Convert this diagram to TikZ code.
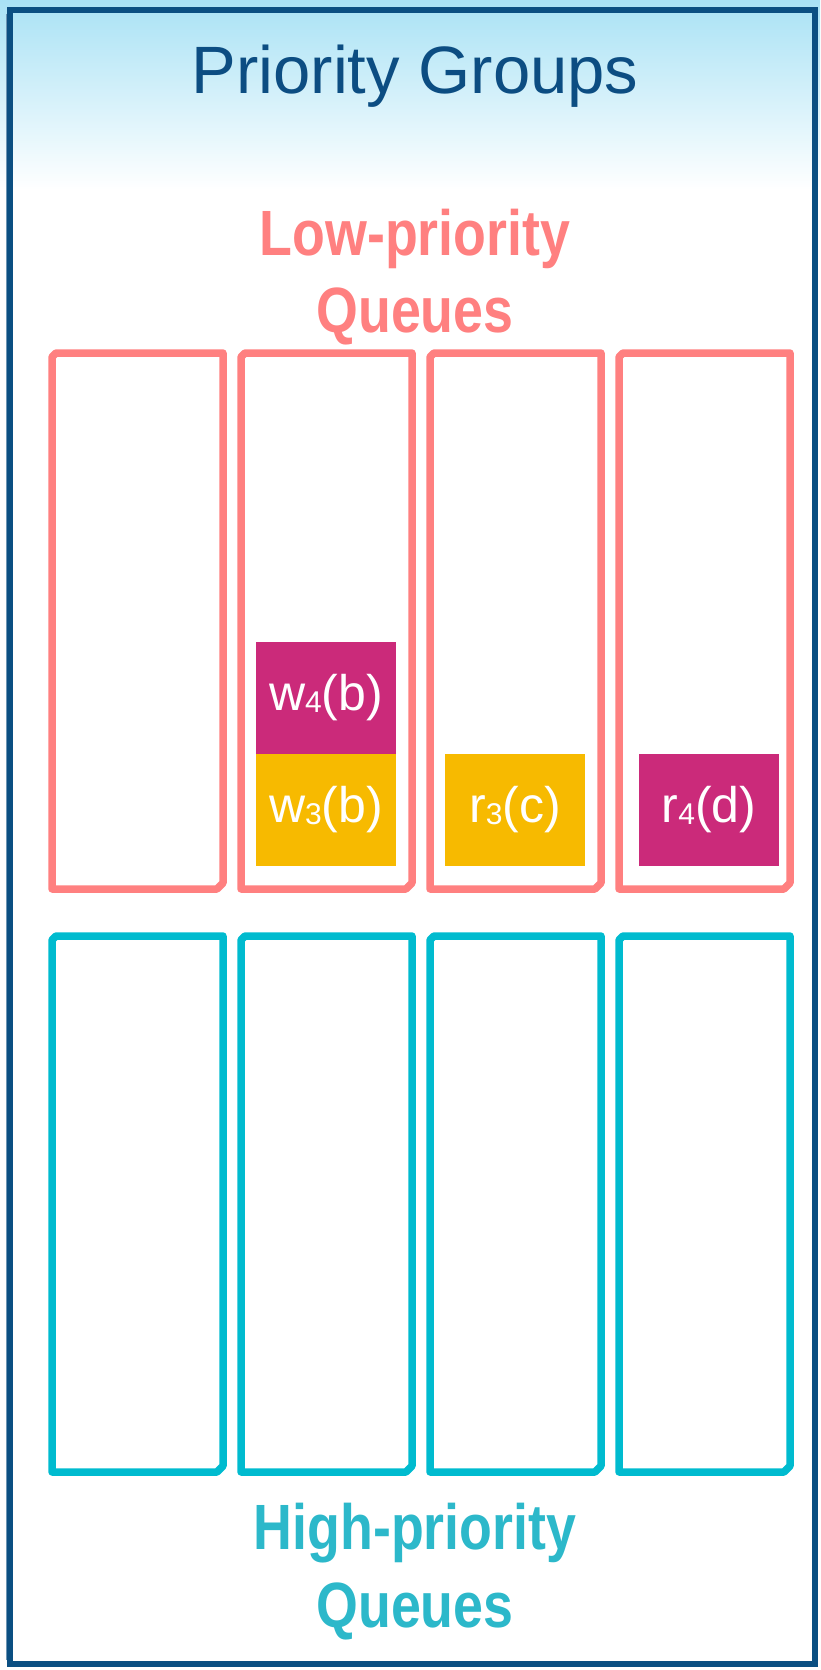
\documentclass[tikz,border=0pt]{standalone}
\usepackage{fontspec}
\setmainfont{Liberation Sans}
\newfontfamily\condbold[FakeStretch=0.84]{Liberation Sans Bold}

\definecolor{skyblue}{RGB}{169,226,245}
\definecolor{framblue}{RGB}{11,79,130}
\definecolor{titleblue}{RGB}{12,77,130}
\definecolor{lowred}{RGB}{255,128,128}
\definecolor{highcyan}{RGB}{0,187,207}
\definecolor{hightext}{RGB}{44,184,202}
\definecolor{opmagenta}{RGB}{203,42,122}
\definecolor{opyellow}{RGB}{247,186,0}

\newcommand{\qsub}[1]{\raisebox{-2pt}{\fontsize{30}{30}\selectfont #1}}

\tikzset{
  lowq/.style={draw=lowred, line width=7.5pt, line join=round},
  highq/.style={draw=highcyan, line width=7.5pt, line join=round},
  heading/.style={anchor=base, inner sep=0pt, font=\condbold\fontsize{64}{64}\selectfont},
  op/.style={minimum width=140pt, minimum height=112pt, inner sep=0pt, text=white,
    font=\fontsize{50}{50}\selectfont},
}

\begin{document}
\begin{tikzpicture}[x=1pt, y=-1pt]
  \useasboundingbox (0,0) rectangle (820,1670);
  \shade[top color=skyblue, bottom color=white] (0,0) rectangle (820,190);

  % frame
  \draw[framblue, line width=6pt] (10,10) rectangle (815,1664);
  \draw[framblue!60, line width=1pt] (6,14) -- (6,1660);

  % headings
  \node[anchor=base, inner sep=0pt, text=titleblue, font=\fontsize{67}{67}\selectfont]
    (title) at (415,93) {Priority Groups};
  \node[heading, text=lowred] (lowname) at (415,255) {Low-priority};
  \node[heading, text=lowred] (lowqueues) at (415,332) {Queues};
  \node[heading, text=hightext] (highname) at (415,1549) {High-priority};
  \node[heading, text=hightext] (highqueues) at (415,1627) {Queues};

  % queues
  \foreach \l in {52,241,430,619}{
    \draw[lowq] (\l,357) -- (\l,889) -- (\l+165,889) -- (\l+171,883)
      -- (\l+171,353) -- (\l+4,353) -- cycle;
    \draw[highq] (\l,940) -- (\l,1472) -- (\l+165,1472) -- (\l+171,1466)
      -- (\l+171,936) -- (\l+4,936) -- cycle;
  }

  % operations
  \node[op, fill=opmagenta] (w4b) at (326,698) {w\qsub{4}(b)};
  \node[op, fill=opyellow] (w3b) at (326,810) {w\qsub{3}(b)};
  \node[op, fill=opyellow] (r3c) at (515,810) {r\qsub{3}(c)};
  \node[op, fill=opmagenta] (r4d) at (709,810) {r\qsub{4}(d)};
\end{tikzpicture}
\end{document}
